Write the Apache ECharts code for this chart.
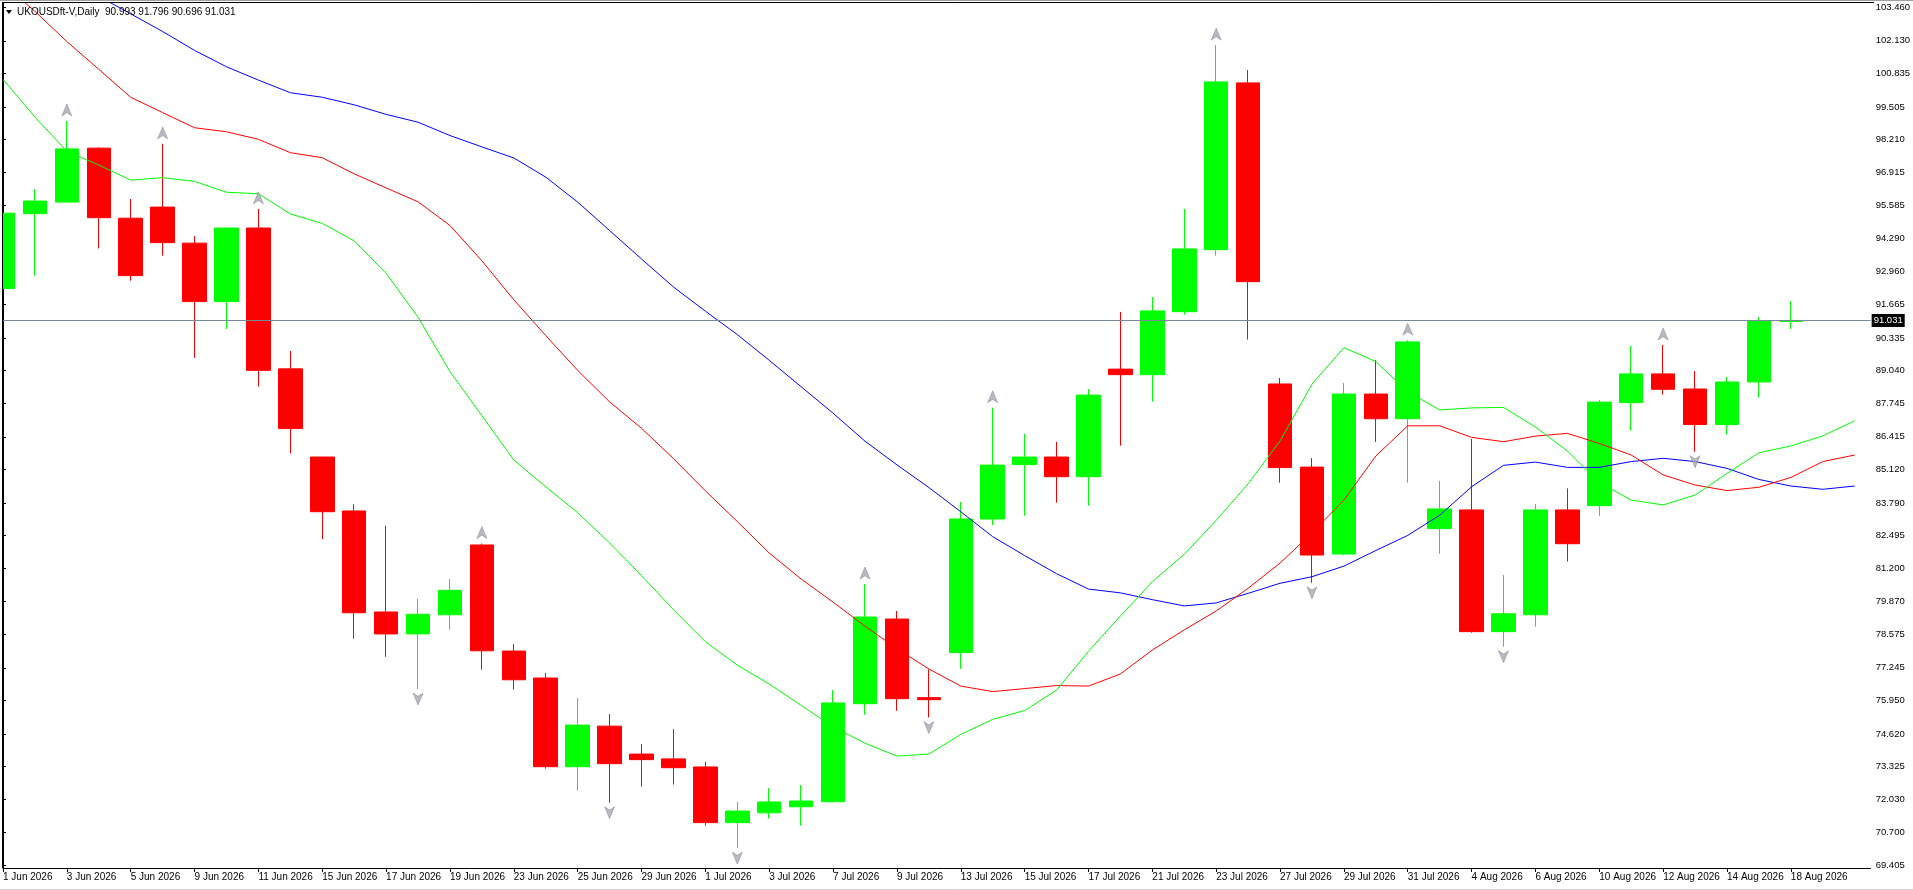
<!DOCTYPE html>
<html>
<head>
<meta charset="utf-8">
<script src="https://cdn.jsdelivr.net/npm/echarts@6/dist/echarts.min.js"></script>
<style>
html,body{margin:0;padding:0;background:#fff;overflow:hidden}
#chart{width:1913px;height:890px}
</style>
</head>
<body>
<div id="chart"></div>
<script>
// ---------- DATA ----------
const symbolName = 'UKOUSDft-V';
const timeframe = 'Daily';

const dates = [
  '1 Jun 2026','2 Jun 2026','3 Jun 2026','4 Jun 2026','5 Jun 2026',
  '8 Jun 2026','9 Jun 2026','10 Jun 2026','11 Jun 2026','12 Jun 2026',
  '15 Jun 2026','16 Jun 2026','17 Jun 2026','18 Jun 2026','19 Jun 2026',
  '22 Jun 2026','23 Jun 2026','24 Jun 2026','25 Jun 2026','26 Jun 2026',
  '29 Jun 2026','30 Jun 2026','1 Jul 2026','2 Jul 2026','3 Jul 2026',
  '6 Jul 2026','7 Jul 2026','8 Jul 2026','9 Jul 2026','10 Jul 2026',
  '13 Jul 2026','14 Jul 2026','15 Jul 2026','16 Jul 2026','17 Jul 2026',
  '20 Jul 2026','21 Jul 2026','22 Jul 2026','23 Jul 2026','24 Jul 2026',
  '27 Jul 2026','28 Jul 2026','29 Jul 2026','30 Jul 2026','31 Jul 2026',
  '3 Aug 2026','4 Aug 2026','5 Aug 2026','6 Aug 2026','7 Aug 2026',
  '10 Aug 2026','11 Aug 2026','12 Aug 2026','13 Aug 2026','14 Aug 2026',
  '17 Aug 2026','18 Aug 2026','19 Aug 2026','20 Aug 2026'
];
const lastBarIndex = 56;

// tick label positions on the time axis (bar indices)
const xLabelIdx = [0,2,4,6,8,10,12,14,16,18,20,22,24,26,28,30,32,34,36,38,40,42,44,46,48,50,52,54,56];

const opens = [
  92.30,95.27,95.73,97.87,95.09,95.53,94.10,91.78,94.70,89.11,
  85.61,83.47,79.46,78.59,79.35,82.12,77.91,76.84,73.32,74.93,
  73.82,73.63,73.31,71.10,71.49,71.73,71.93,75.82,79.18,76.06,
  77.85,83.15,85.31,85.61,84.83,89.10,88.88,91.38,93.84,100.46,
  88.51,85.21,81.76,88.11,87.13,82.77,83.51,78.68,79.35,83.51,
  83.68,87.77,88.91,88.31,86.90,88.59,90.993
];
const closes = [
  95.29,95.77,97.84,95.11,92.81,94.12,91.78,94.70,89.05,86.74,
  83.44,79.43,78.59,79.37,80.32,77.92,76.77,73.32,74.97,73.44,
  73.60,73.28,71.10,71.56,71.92,71.96,75.85,79.26,76.02,75.98,
  83.15,85.29,85.61,84.83,88.07,88.88,91.41,93.87,100.50,92.57,
  85.19,81.72,88.11,87.13,90.18,83.55,78.68,79.39,83.51,82.17,
  87.79,88.91,88.30,86.90,88.59,91.02,91.031
];
const lows = [
  92.25,92.81,95.70,93.89,92.61,93.60,89.55,90.70,88.41,85.75,
  82.35,78.40,77.68,76.40,78.76,77.17,76.38,73.24,72.37,71.89,
  72.53,72.61,70.98,70.09,71.26,70.98,71.93,75.38,75.54,75.27,
  77.20,82.91,83.28,83.80,83.68,86.06,87.81,91.26,93.60,90.27,
  84.59,80.62,81.71,86.21,84.59,81.77,78.64,78.08,78.88,81.46,
  83.27,86.66,88.09,85.82,86.50,87.97,90.696
];
const highs = [
  97.73,96.25,98.95,97.90,95.85,98.04,94.38,94.70,95.46,89.82,
  85.61,83.74,82.88,79.99,80.77,82.18,78.19,77.04,76.04,75.41,
  74.22,74.81,73.51,71.92,72.47,72.59,76.36,80.57,79.50,77.18,
  83.83,87.57,86.53,86.21,88.31,91.37,91.96,95.46,101.96,100.97,
  88.75,85.57,88.55,89.46,90.25,84.66,86.33,80.93,83.75,84.37,
  87.87,90.02,90.06,89.02,88.79,91.17,91.796
];

// Alligator lines (shifted, extend past last bar)
const jaw = [
  106.0,105.3,104.6,103.9,103.2,102.5,101.75,101.1,100.57,100.07,
  99.89,99.59,99.21,98.9,98.37,97.92,97.48,96.72,95.73,94.6,
  93.47,92.36,91.4,90.47,89.45,88.4,87.35,86.24,85.3,84.4,
  83.44,82.45,81.7,80.98,80.37,80.22,79.95,79.7,79.82,80.2,
  80.6,80.86,81.28,81.9,82.5,83.3,84.43,85.28,85.41,85.2,
  85.2,85.43,85.56,85.43,85.16,84.72,84.46,84.33,84.46
];
const teeth = [
  104.4,103.3,102.1,101.0,99.89,99.28,98.68,98.52,98.22,97.69,
  97.49,96.85,96.29,95.74,94.8,93.4,91.85,90.43,89.05,87.8,
  86.75,85.55,84.27,83.05,81.8,80.77,79.85,78.9,78.0,77.2,
  76.52,76.3,76.42,76.54,76.52,77.0,77.95,78.75,79.5,80.4,
  81.4,82.6,83.9,85.65,86.85,86.85,86.39,86.22,86.44,86.55,
  86.15,85.69,84.9,84.5,84.28,84.41,84.8,85.43,85.69
];
const lips = [
  100.6,99.1,97.75,97.2,96.6,96.7,96.55,96.12,96.06,95.26,
  94.88,94.19,92.9,91.16,89.0,87.25,85.49,84.43,83.4,82.2,
  80.9,79.55,78.28,77.35,76.6,75.75,74.9,74.25,73.74,73.82,
  74.6,75.2,75.55,76.36,77.9,79.3,80.66,81.75,83.1,84.55,
  86.25,88.5,89.95,89.4,88.2,87.48,87.56,87.58,86.8,85.85,
  84.6,83.9,83.71,84.1,84.96,85.78,86.05,86.45,87.05
];

// Fractal bar indices
const upFractals = [2,5,8,15,27,31,38,44,52];
const downFractals = [13,19,23,29,41,47,53];

// Price-axis tick labels
const yTicks = [
  103.460,102.130,100.835,99.505,98.210,96.915,95.585,94.290,92.960,91.665,
  90.335,89.040,87.745,86.415,85.120,83.790,82.495,81.200,79.870,78.575,
  77.245,75.950,74.620,73.325,72.030,70.700,69.405
];
const yMin = 69.299;
const yMax = 103.631;
const xMin = 0;
const xMax = 58.5;

// ---------- CHART ----------
const FONT = 'Liberation Sans';
const candleData = opens.map((o, i) => [i, o, closes[i], lows[i], highs[i]]);
const toXY = arr => arr.map((v, i) => [i, v]);
const last = lastBarIndex;
const titleText = symbolName + ',' + timeframe + '  ' +
  [opens[last], highs[last], lows[last], closes[last]].map(v => v.toFixed(3)).join(' ');

const chart = echarts.init(document.getElementById('chart'), null, {renderer: 'canvas'});
chart.setOption({
  animation: false,
  backgroundColor: '#ffffff',
  grid: {left: 2, right: 39, top: 3, bottom: 22, containLabel: false},
  xAxis: {
    type: 'value',
    min: xMin,
    max: xMax,
    splitLine: {show: false},
    axisLine: {show: true, onZero: false, lineStyle: {color: '#000', width: 1}},
    axisTick: {show: true, customValues: xLabelIdx, length: 4, lineStyle: {color: '#000'}},
    axisLabel: {
      customValues: xLabelIdx,
      formatter: v => dates[Math.round(v)],
      align: 'left', margin: 4, color: '#000', fontFamily: FONT, fontSize: 10
    }
  },
  yAxis: {
    type: 'value',
    position: 'right',
    min: yMin,
    max: yMax,
    scale: true,
    splitLine: {show: false},
    axisLine: {show: true, lineStyle: {color: '#000', width: 1}},
    axisTick: {show: true, length: 3, customValues: yTicks, lineStyle: {color: '#000'}},
    axisLabel: {customValues: yTicks, formatter: v => v.toFixed(3), margin: 5, color: '#000', fontFamily: FONT, fontSize: 9.5}
  },
  series: [
    {
      type: 'candlestick',
      data: candleData,
      encode: {x: 0, y: [1, 2, 3, 4]},
      barWidth: 24,
      z: 2,
      itemStyle: {color: '#00FF00', color0: '#FF0000', borderColor: '#00FF00', borderColor0: '#FF0000', borderWidth: 1},
      emphasis: {disabled: true},
      silent: true,
      markLine: {
        silent: true,
        symbol: ['none', 'none'],
        animation: false,
        lineStyle: {color: '#778899', width: 1, type: 'solid'},
        label: {
          show: true, position: 'end', distance: 1,
          formatter: () => closes[last].toFixed(3),
          backgroundColor: '#000', color: '#fff', padding: [2, 2, 1, 2],
          fontFamily: FONT, fontSize: 9.5
        },
        emphasis: {disabled: true},
        data: [{yAxis: closes[last]}]
      }
    },
    {type: 'line', data: toXY(jaw), symbol: 'none', z: 4, silent: true, lineStyle: {color: '#0000FF', width: 1}, emphasis: {disabled: true}},
    {type: 'line', data: toXY(teeth), symbol: 'none', z: 4, silent: true, lineStyle: {color: '#FF0000', width: 1}, emphasis: {disabled: true}},
    {type: 'line', data: toXY(lips), symbol: 'none', z: 4, silent: true, lineStyle: {color: '#00FF00', width: 1}, emphasis: {disabled: true}},
    {
      type: 'scatter', z: 6, silent: true,
      data: upFractals.map(i => [i, highs[i]]),
      symbol: 'path://M5,0 L10,11 L5,8 L0,11 Z',
      symbolSize: [10, 12], symbolOffset: [0, -11],
      itemStyle: {color: '#a6a8b4', borderColor: '#6f7180', borderWidth: 0.5},
      emphasis: {disabled: true}
    },
    {
      type: 'scatter', z: 6, silent: true,
      data: downFractals.map(i => [i, lows[i]]),
      symbol: 'path://M0,0 L5,3 L10,0 L5,11 Z',
      symbolSize: [10, 12], symbolOffset: [0, 10],
      itemStyle: {color: '#a6a8b4', borderColor: '#6f7180', borderWidth: 0.5},
      emphasis: {disabled: true}
    }
  ],
  graphic: [
    {type: 'rect', z: 90, silent: true, shape: {x: 0, y: 3, width: 2, height: 865}, style: {fill: '#fff'}},
    {type: 'line', z: 91, silent: true, shape: {x1: 0, y1: 0.5, x2: 1913, y2: 0.5}, style: {stroke: '#a0a0a0', lineWidth: 1}},
    {type: 'line', z: 91, silent: true, shape: {x1: 2, y1: 2.5, x2: 1874, y2: 2.5}, style: {stroke: '#000', lineWidth: 1}},
    {type: 'line', z: 91, silent: true, shape: {x1: 2.5, y1: 2, x2: 2.5, y2: 868}, style: {stroke: '#000', lineWidth: 1}},
    {type: 'line', z: 91, silent: true, shape: {x1: 0, y1: 889.5, x2: 1913, y2: 889.5}, style: {stroke: '#d0d0d0', lineWidth: 1}},
    {type: 'polygon', z: 92, silent: true, shape: {points: [[6, 10], [12, 10], [9, 14]]}, style: {fill: '#000'}},
    {type: 'text', z: 92, silent: true, style: {text: titleText, x: 17, y: 7, fill: '#000', font: '10px "Liberation Sans"'}}
  ]
});
</script>
</body>
</html>
